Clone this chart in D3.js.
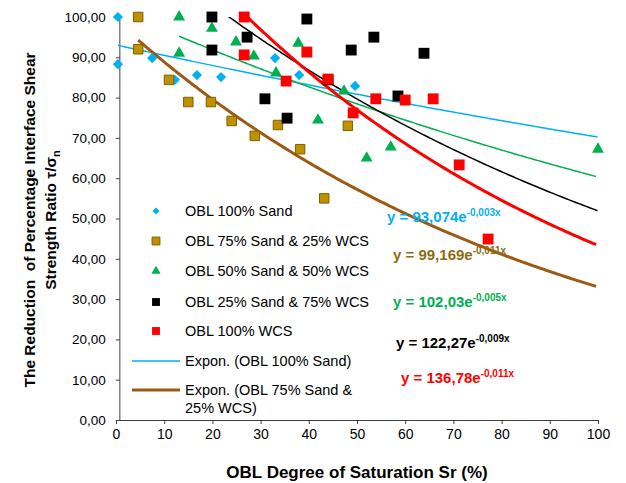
<!DOCTYPE html>
<html>
<head>
<meta charset="utf-8">
<script src="https://cdn.jsdelivr.net/npm/d3@7"></script>
<style>
  body { margin: 0; background: #fff; }
  svg { display: block; font-family: "Liberation Sans", Arial, sans-serif; }
  text { white-space: pre; }
</style>
</head>
<body>
<div id="chart"></div>
<script>
// ---- data ----
const seriesNames = [
    "OBL 100% Sand",
    "OBL 75% Sand & 25% WCS",
    "OBL 50% Sand & 50% WCS",
    "OBL 25% Sand & 75% WCS",
    "OBL 100% WCS"
];

const sand100X = [0.4, 0.4, 7.5, 12.2, 16.8, 21.8, 33, 38, 49.6];
const sand100Y = [100, 88.3, 89.8, 84.4, 85.6, 85.1, 89.8, 85.6, 82.9];

const sand75X = [4.6, 4.6, 11, 15, 19.7, 24, 28.8, 33.6, 38.2, 43.2, 48.1];
const sand75Y = [100, 92, 84.4, 78.9, 78.9, 74.2, 70.5, 73.2, 67.2, 55, 73];

const sand50X = [13.1, 13.1, 19.9, 24.9, 28.6, 33.2, 37.8, 41.9, 47.3, 52, 57, 100];
const sand50Y = [100, 91, 97.2, 93.8, 90.3, 86.1, 93.5, 74.4, 81.6, 65, 67.7, 67.2];

const sand25X = [19.9, 19.9, 27.2, 30.9, 35.5, 39.6, 44, 48.8, 53.5, 58.5, 63.9];
const sand25Y = [100, 91.8, 95, 79.7, 74.9, 99.5, 84.4, 91.8, 95, 80.4, 91];

const wcsX = [26.6, 26.6, 35.3, 39.6, 44, 49.2, 53.9, 60, 65.8, 71.2, 77.2];
const wcsY = [100, 90.6, 84.1, 91.3, 84.6, 76.2, 79.7, 79.4, 79.7, 63.3, 44.9];

// exponential trendlines y = a * e^(b x)
const trendA = [93.074, 99.169, 102.03, 122.27, 136.78];
const trendB = [-0.00282, -0.011, -0.00526, -0.00857, -0.0115];
const eqCoef = ["93,074", "99,169", "102,03", "122,27", "136,78"];
const eqExp = ["-0,003x", "-0,011x", "-0,005x", "-0,009x", "-0,011x"];

const xTicks = [0, 10, 20, 30, 40, 50, 60, 70, 80, 90, 100];
const yTicks = [0, 10, 20, 30, 40, 50, 60, 70, 80, 90, 100];

// ---- styles / layout ----
const markerFill = ["#00B0F0", "#BF9000", "#00B050", "#000000", "#FF0000"];
const markerStroke = ["none", "#7F6000", "none", "none", "none"];
const trendColor = ["#00B0F0", "#9C5A14", "#00B050", "#000000", "#FF0000"];
const trendWidth = [1.5, 3, 1.5, 1.5, 3];
const eqColor = ["#00B0F0", "#8C6B12", "#00B050", "#000000", "#FF0000"];
const eqPos = [[387, 222], [393, 260], [393, 307], [396, 348], [401, 383]];

const W = 626, H = 483;
const svg = d3.select("#chart").append("svg")
    .attr("width", W)
    .attr("height", H);

const x = d3.scaleLinear().domain([0, 100]).range([116, 598]);
const y = d3.scaleLinear().domain([0, 100]).range([420, 17]);
const yAxisCross = 0.8;

const seriesX = [sand100X, sand75X, sand50X, sand25X, wcsX];
const seriesY = [sand100Y, sand75Y, sand50Y, sand25Y, wcsY];

// shapes
const shape = (i, big) => {
    if (i === 0) return d3.symbol().type(d3.symbolSquare).size(big ? 52 : 26)();
    if (i === 2) return d3.symbol().type(d3.symbolTriangle).size(big ? 62 : 36)();
    return d3.symbol().type(d3.symbolSquare).size(big ? (i === 1 ? 90 : 118) : 62)();
};
const rot = i => i === 0 ? " rotate(45)" : "";

// Axes
const xAxis = d3.axisBottom(x).tickValues(xTicks).tickSize(4).tickPadding(5)
    .tickFormat(d3.format("d"));
svg.append("g")
    .attr("transform", `translate(0,${y(0)})`)
    .call(xAxis)
    .call(g => g.selectAll("text").attr("font-size", "14px").attr("fill", "#000")
        .style("font-family", "Liberation Sans, Arial, sans-serif"))
    .call(g => g.selectAll("line, path").attr("stroke", "#404040"));

const yAxis = d3.axisLeft(y).tickValues(yTicks).tickSize(4).tickPadding(10)
    .tickFormat(d => d3.format(".2f")(d).replace(".", ","));
svg.append("g")
    .attr("transform", `translate(${x(yAxisCross)},0)`)
    .call(yAxis)
    .call(g => g.select(".domain").attr("d", `M0,${y(0)}V${y(100)}`))
    .call(g => g.selectAll("text").attr("font-size", "13.5px").attr("fill", "#000")
        .style("font-family", "Liberation Sans, Arial, sans-serif"))
    .call(g => g.selectAll("line, path").attr("stroke", "#404040"));

// Trendlines (clipped to plot area)
svg.append("clipPath").attr("id", "plotClip")
    .append("rect")
    .attr("x", x(0)).attr("y", y(100))
    .attr("width", x(100) - x(0)).attr("height", y(0) - y(100));

const trendG = svg.append("g").attr("clip-path", "url(#plotClip)");
trendA.forEach((a, i) => {
    const x0 = d3.min(seriesX[i]);
    const xs = d3.range(x0, 100.01, 0.5);
    const pts = xs.map(v => [v, a * Math.exp(trendB[i] * v)]);
    trendG.append("path")
        .attr("d", d3.line().x(d => x(d[0])).y(d => y(d[1]))(pts))
        .attr("fill", "none")
        .attr("stroke", trendColor[i])
        .attr("stroke-width", trendWidth[i]);
});

// Markers
seriesX.forEach((xs, i) => {
    svg.append("g")
        .selectAll("path")
        .data(xs.map((v, j) => [v, seriesY[i][j]]))
        .join("path")
        .attr("d", shape(i, true))
        .attr("transform", d => `translate(${x(d[0])},${y(d[1])})${rot(i)}`)
        .attr("fill", markerFill[i])
        .attr("stroke", markerStroke[i])
        .attr("stroke-width", 1);
});

// Equations
eqCoef.forEach((c, i) => {
    const t = svg.append("text")
        .attr("x", eqPos[i][0])
        .attr("y", eqPos[i][1])
        .attr("fill", eqColor[i])
        .attr("font-weight", "bold")
        .attr("font-size", "15px");
    t.append("tspan").text(`y = ${c}e`);
    t.append("tspan").attr("dy", -6).attr("font-size", "10px").text(eqExp[i]);
});

// Legend
const legend = svg.append("g");
const legendRows = [211, 241, 271, 302, 331];
seriesNames.forEach((name, i) => {
    legend.append("path")
        .attr("d", shape(i, false))
        .attr("transform", `translate(156,${legendRows[i]})${rot(i)}`)
        .attr("fill", markerFill[i])
        .attr("stroke", markerStroke[i]);
    legend.append("text")
        .attr("x", 185)
        .attr("y", legendRows[i])
        .attr("dy", "0.36em")
        .attr("font-size", "14.5px")
        .text(name);
});
const trendLegend = [
    {lines: ["Expon. (OBL 100% Sand)"], y: 361, i: 0},
    {lines: ["Expon. (OBL 75% Sand &", "25% WCS)"], y: 390, i: 1}
];
trendLegend.forEach(e => {
    legend.append("line")
        .attr("x1", 132).attr("x2", 180)
        .attr("y1", e.y).attr("y2", e.y)
        .attr("stroke", trendColor[e.i])
        .attr("stroke-width", trendWidth[e.i]);
    e.lines.forEach((l, k) => {
        legend.append("text")
            .attr("x", 185)
            .attr("y", e.y + k * 18)
            .attr("dy", "0.36em")
            .attr("font-size", "14.5px")
            .text(l);
    });
});

// Axis titles
svg.append("text")
    .attr("x", (x(0) + x(100)) / 2)
    .attr("y", 472)
    .attr("dy", "0.36em")
    .attr("text-anchor", "middle")
    .attr("font-weight", "bold")
    .attr("font-size", "17px")
    .text("OBL Degree of Saturation Sr (%)");

const yTitle = svg.append("text")
    .attr("transform", "translate(0,220) rotate(-90)")
    .attr("text-anchor", "middle")
    .attr("font-weight", "bold")
    .attr("font-size", "15.5px");
yTitle.append("tspan").attr("x", 0).attr("y", 29).attr("dy", "0.36em")
    .text("The Reduction  of Percentage Interface Shear");
const l2 = yTitle.append("tspan").attr("x", 0).attr("y", 50).attr("dy", "0.36em");
l2.append("tspan").text("Strength Ratio τ/σ");
l2.append("tspan").attr("font-size", "11px").attr("dy", 4).text("n");
</script>
</body>
</html>
